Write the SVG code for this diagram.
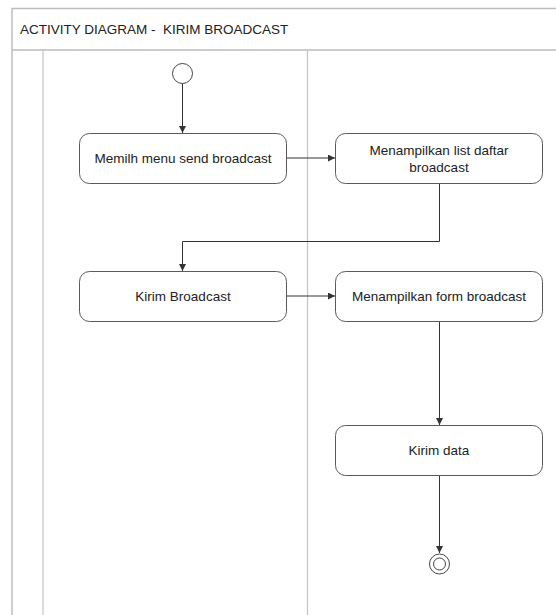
<svg xmlns="http://www.w3.org/2000/svg" width="556" height="615" viewBox="0 0 556 615">
  <style>
    .frame { fill: none; stroke: #bdbdbd; stroke-width: 1.5; }
    .lane { fill: none; stroke: #c4c4c4; stroke-width: 1.2; }
    .act { fill: #ffffff; stroke: #5a5a5a; stroke-width: 1; }
    .lbl { font-family: "Liberation Sans", Arial, sans-serif; font-size: 13.5px; fill: #222; text-anchor: middle; }
    .title { font-family: "Liberation Sans", Arial, sans-serif; font-size: 13.5px; fill: #222; }
    .edge { fill: none; stroke: #333; stroke-width: 1; marker-end: url(#arrow); }
  </style>
  <defs>
    <marker id="arrow" viewBox="0 0 10 10" refX="10" refY="5" markerWidth="7" markerHeight="7" markerUnits="userSpaceOnUse" orient="auto">
      <path d="M0,0 L10,5 L0,10 z" fill="#333"/>
    </marker>
  </defs>
  <rect width="556" height="615" fill="#ffffff"/>

  <!-- frame and swimlanes -->
  <g id="frame">
    <path class="frame" d="M12,620 V8.5 H560"/>
    <line class="frame" x1="12" y1="50" x2="560" y2="50"/>
    <line class="lane" x1="43" y1="50" x2="43" y2="620"/>
    <line class="lane" x1="307.5" y1="50" x2="307.5" y2="620"/>
    <text class="title" x="20" y="34" xml:space="preserve">ACTIVITY DIAGRAM -  KIRIM BROADCAST</text>
  </g>

  <!-- connectors -->
  <g id="connectors">
    <line class="edge" x1="182.5" y1="83.5" x2="182.5" y2="133"/>
    <line class="edge" x1="287" y1="158" x2="335" y2="158"/>
    <polyline class="edge" points="439.5,183 439.5,241.5 182.5,241.5 182.5,271"/>
    <line class="edge" x1="287" y1="296" x2="335" y2="296"/>
    <line class="edge" x1="439.5" y1="321" x2="439.5" y2="425"/>
    <line class="edge" x1="439.5" y1="475" x2="439.5" y2="553"/>
  </g>

  <g id="start">
    <circle cx="182.5" cy="73.5" r="10" fill="#fff" stroke="#444" stroke-width="1"/>
  </g>

  <g id="memilih-menu">
    <rect class="act" x="79.5" y="133.5" width="207" height="50" rx="10"/>
    <text class="lbl" x="183" y="163">Memilh menu send broadcast</text>
  </g>

  <g id="tampil-list">
    <rect class="act" x="335.5" y="133.5" width="207" height="50" rx="10"/>
    <text class="lbl" x="439" y="155">Menampilkan list daftar</text>
    <text class="lbl" x="439" y="172">broadcast</text>
  </g>

  <g id="kirim-broadcast">
    <rect class="act" x="79.5" y="271.5" width="207" height="50" rx="10"/>
    <text class="lbl" x="183" y="301">Kirim Broadcast</text>
  </g>

  <g id="tampil-form">
    <rect class="act" x="335.5" y="271.5" width="207" height="50" rx="10"/>
    <text class="lbl" x="439" y="301">Menampilkan form broadcast</text>
  </g>

  <g id="kirim-data">
    <rect class="act" x="335.5" y="425.5" width="207" height="50" rx="10"/>
    <text class="lbl" x="439" y="455">Kirim data</text>
  </g>

  <g id="end">
    <circle cx="439.5" cy="564" r="10" fill="#fff" stroke="#444" stroke-width="1"/>
    <circle cx="439.5" cy="564" r="6" fill="#fff" stroke="#444" stroke-width="1"/>
  </g>
</svg>
